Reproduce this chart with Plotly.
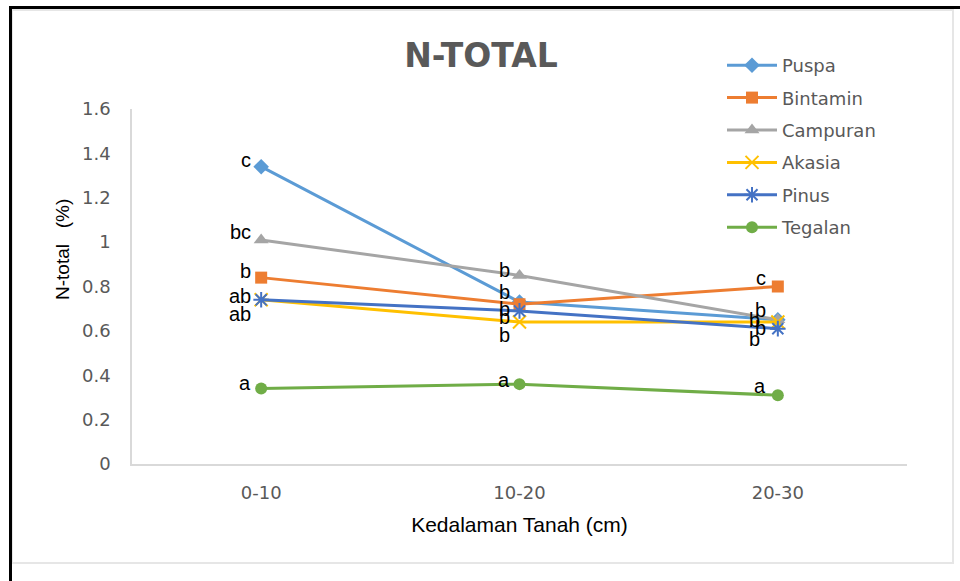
import plotly.graph_objects as go

categories = ["0-10", "10-20", "20-30"]
series_names = ["Puspa", "Bintamin", "Campuran", "Akasia", "Pinus", "Tegalan"]
puspa = [1.34, 0.73, 0.65]
bintamin = [0.84, 0.72, 0.80]
campuran = [1.01, 0.85, 0.65]
akasia = [0.74, 0.64, 0.64]
pinus = [0.74, 0.69, 0.61]
tegalan = [0.34, 0.36, 0.31]
puspa_lbl = ["c", "b", "b"]
bintamin_lbl = ["b", "b", "c"]
campuran_lbl = ["bc", "b", "b"]
akasia_lbl = ["ab", "b", "b"]
pinus_lbl = ["ab", "b", "b"]
tegalan_lbl = ["a", "a", "a"]
y_ticks = [0, 0.2, 0.4, 0.6, 0.8, 1.0, 1.2, 1.4, 1.6]
y_tick_text = ["0", "0.2", "0.4", "0.6", "0.8", "1", "1.2", "1.4", "1.6"]

values = [puspa, bintamin, campuran, akasia, pinus, tegalan]
labels = [puspa_lbl, bintamin_lbl, campuran_lbl, akasia_lbl, pinus_lbl, tegalan_lbl]

colors = ["#5B9BD5", "#ED7D31", "#A5A5A5", "#FFC000", "#4472C4", "#70AD47"]
symbols = ["diamond", "square", "triangle-up", "x-thin", "asterisk", "circle"]
msizes = [12, 12, 13, 13, 13, 12]
# label offsets (pixels) per series per category: (xshift, yshift)
label_offsets = [
    [(-8, 7), (-8, 10), (-10, 10)],
    [(-8, 7), (-8, -5), (-10, 9)],
    [(-8, 8), (-8, 5), (-16, 0)],
    [(-8, -14), (-8, -13), (-10, -6)],
    [(-8, 4), (-8, -6), (-16, -10)],
    [(-8, 6), (-8, 4), (-10, 9)],
]

W, H = 960, 581
L, R, T, B = 132, 907, 109, 464
TICK_FONT = "DejaVu Sans, Liberation Sans, Arial"
TEXT_FONT = "Liberation Sans, Arial"


def px(x):
    return (x - L) / (R - L)


def py(y):
    return (B - y) / (B - T)


fig = go.Figure()
for i, name in enumerate(series_names):
    open_sym = symbols[i] in ("x-thin", "asterisk")
    fig.add_trace(go.Scatter(
        x=categories, y=values[i], name=name, mode="lines+markers",
        legendgroup=name,
        line=dict(color=colors[i], width=3),
        marker=dict(symbol=symbols[i], size=msizes[i], color=colors[i],
                    line=dict(color=colors[i], width=2 if open_sym else 0)),
    ))
    for j, cat in enumerate(categories):
        xs, ys = label_offsets[i][j]
        fig.add_annotation(x=cat, y=values[i][j], text=labels[i][j],
                           showarrow=False, xanchor="right", yanchor="middle",
                           xshift=xs, yshift=ys,
                           font=dict(family=TEXT_FONT, size=20, color="#000000"))

# y-axis title
fig.add_annotation(xref="paper", yref="paper", x=px(62), y=py(250), text="N-total\u00a0\u00a0\u00a0(%)",
                   textangle=-90, showarrow=False, xanchor="center", yanchor="middle",
                   font=dict(family=TEXT_FONT, size=19, color="#000000"))

shapes = [
    # light gray chart-area frame
    dict(type="rect", xref="paper", yref="paper", x0=px(12), x1=px(953), y0=py(10), y1=py(563),
         line=dict(color="#E6E6E6", width=2), fillcolor="rgba(0,0,0,0)", layer="below"),
    # black border lines
    dict(type="line", xref="paper", yref="paper", x0=px(9), x1=px(962), y0=py(7.5), y1=py(7.5),
         line=dict(color="#000000", width=3)),
    dict(type="line", xref="paper", yref="paper", x0=px(10.5), x1=px(10.5), y0=py(6), y1=py(583),
         line=dict(color="#000000", width=3)),
]

fig.update_layout(
    width=W, height=H,
    margin=dict(l=L, r=W - R, t=T, b=H - B, pad=0),
    paper_bgcolor="#FFFFFF", plot_bgcolor="#FFFFFF",
    title=dict(text="<b>N-TOTAL</b>", xref="container", x=481 / W, xanchor="center",
               y=1 - 55 / H, yanchor="middle",
               font=dict(family="DejaVu Sans, Liberation Sans", size=33, color="#595959")),
    xaxis=dict(type="category", range=[-0.5, 2.5], showgrid=False, showline=True,
               linecolor="#D9D9D9", linewidth=1.5, ticks="", zeroline=False,
               ticklabelstandoff=12,
               tickfont=dict(family=TICK_FONT, size=18, color="#595959"),
               title=dict(text="Kedalaman Tanah (cm)", standoff=15,
                          font=dict(family=TEXT_FONT, size=21, color="#000000"))),
    yaxis=dict(range=[0, 1.6], tickvals=y_ticks, ticktext=y_tick_text, showgrid=False,
               showline=True, linecolor="#D9D9D9", linewidth=1.5, ticks="", zeroline=False,
               ticklabelstandoff=16,
               tickfont=dict(family=TICK_FONT, size=18, color="#595959")),
    legend=dict(x=px(722), y=py(47), xanchor="left", yanchor="top", itemwidth=50,
                tracegroupgap=6, bgcolor="rgba(0,0,0,0)",
                font=dict(family=TICK_FONT, size=18, color="#595959")),
    shapes=shapes,
)

fig.write_html("out.html", config={"displayModeBar": False},
               post_script="document.body.style.margin='0';document.body.style.padding='0';")
